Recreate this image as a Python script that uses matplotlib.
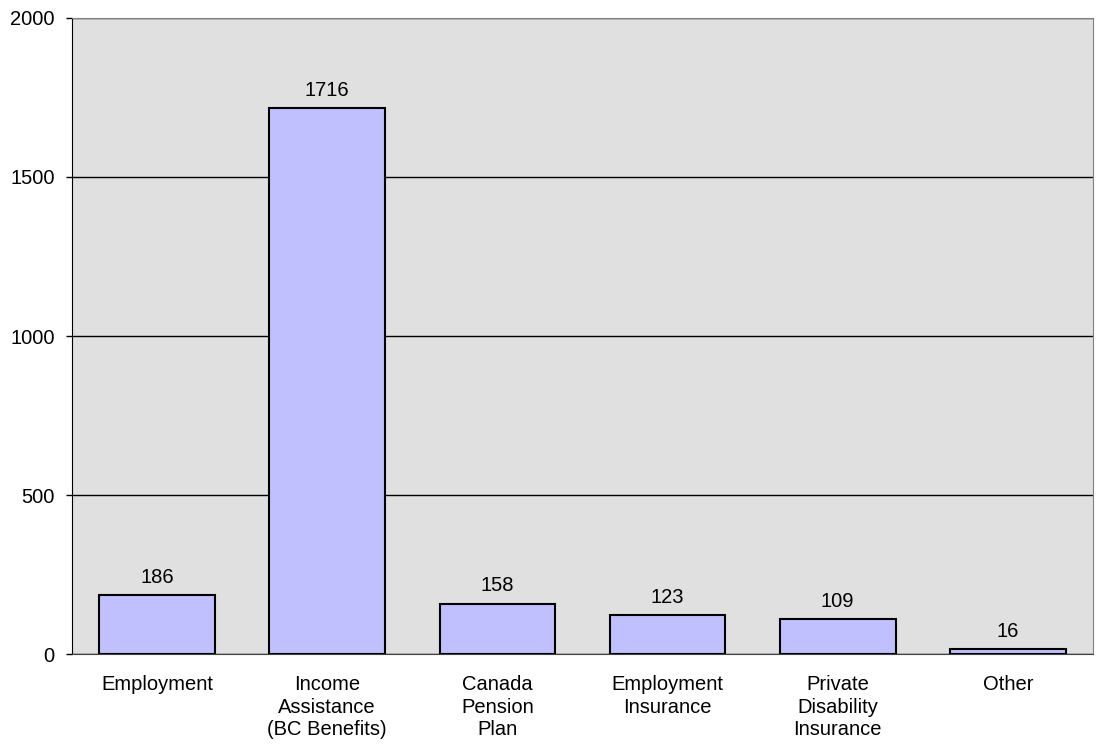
import matplotlib.pyplot as plt
import numpy as np

plt.rcParams['font.family'] = ['Liberation Sans', 'DejaVu Sans']

# income sources and counts
categories = ['Employment', 'Income\nAssistance\n(BC Benefits)', 'Canada\nPension\nPlan',
              'Employment\nInsurance', 'Private\nDisability\nInsurance', 'Other']
counts = [186, 1716, 158, 123, 109, 16]
yticks = [0, 500, 1000, 1500, 2000]

fig = plt.figure(figsize=(10.99, 7.49), dpi=100)
ax = fig.add_axes([0.0655, 0.1268, 0.929, 0.8492])
ax.set_facecolor('#E0E0E0')

x = np.arange(len(categories))
bars = ax.bar(x, counts, width=0.68, color='#C0C0FF', edgecolor='black', linewidth=1.5, zorder=3)

for xi, v in zip(x, counts):
    ax.annotate(str(v), (xi, v), xytext=(0, 6), textcoords='offset points',
                ha='center', va='bottom', fontsize=14.5)

ax.set_xlim(-0.5, len(categories) - 0.5)
ax.set_ylim(0, 2000)
ax.set_yticks(yticks)
ax.set_xticks(x)
ax.set_xticklabels(categories, fontsize=14.5, linespacing=1.25)
ax.tick_params(axis='y', labelsize=14.5, length=4.5, width=1, direction='out', pad=8)
ax.tick_params(axis='x', length=0, pad=15)
ax.yaxis.grid(True, color='black', linewidth=1, zorder=1)

for side in ['top', 'right']:
    ax.spines[side].set_color('#808080')
ax.spines['left'].set_color('black')
ax.spines['bottom'].set_color('#404040')

fig.savefig('out.png', dpi=100)
